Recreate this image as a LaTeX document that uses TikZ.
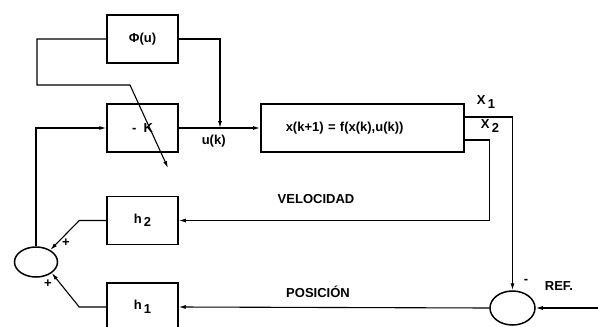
\documentclass[tikz,border=0pt]{standalone}
\usepackage{fontspec}
\setmainfont{Liberation Sans}
\usetikzlibrary{arrows.meta,positioning,shapes.geometric}
\newcommand{\lowidx}[1]{\,\raisebox{-3.5pt}{#1}}

\begin{document}
\begin{tikzpicture}[x=1pt,y=-1pt,
  every node/.style={font=\bfseries\fontsize{13}{15}\selectfont},
  blk/.style={draw,line width=1.5pt,minimum width=71pt,minimum height=48pt,inner sep=0pt},
  summer/.style={draw,ellipse,line width=1.5pt,inner sep=0pt},
  sig/.style={line width=1.1pt,-{Latex[length=7pt,width=4pt]}}
]
\useasboundingbox (0,0) rectangle (598,327);

\node[blk] (phi) at (142.5,39) {Φ(u)};
\node[blk] (K) at (142.5,128) {-\; K};
\node[blk,anchor=west,minimum width=203pt,text width=153pt,inner xsep=25pt,align=left] (plant) at (260,128) {x(k+1) = f(x(k),u(k))};
\node[blk] (h2) at (142.5,220.5) {h\lowidx{2}};
\node[blk] (h1) at (142.5,307) {h\lowidx{1}};
\node[summer,minimum width=43pt,minimum height=30pt] (sum) at (36,262) {};
\node[summer,minimum width=45pt,minimum height=34pt] (ref) at (512.5,308) {};

\coordinate (ujoin) at (220,128);
\coordinate (gk) at (130,85);
\coordinate (gkend) at (168,168);
\coordinate (refin) at (598,308);

\draw[sig] (phi.west) -| (37,85) -- (gk) -- (gkend);
\draw[sig] (phi.east) -| (ujoin);
\draw[sig] (K.east) -- (plant.west) node[pos=0.43,below=3pt] {u(k)};
\draw[sig] ([yshift=11pt]plant.east) -| (ref.north);
\draw[sig] ([yshift=-12pt]plant.east) -- ++(25,0) |- (h2.east);
\draw[sig] (refin) -- (ref.east);
\draw[sig] (ref.west) -- (h1.east);
\draw[sig] (h2.west) -- ++(-27,0) -- (sum.40);
\draw[sig] (h1.west) -- ++(-27,0) -- (sum.-35);
\draw[sig] (sum.north) |- (K.west);

\node at (486,102) {X\lowidx{1}};
\node at (490,126) {X\lowidx{2}};
\node at (316,199) {VELOCIDAD};
\node at (318,292) {POSICIÓN};
\node at (559,286) {REF.};
\node at (526,281) {-};
\node at (66,243) {+};
\node at (48,284) {+};
\end{tikzpicture}
\end{document}
